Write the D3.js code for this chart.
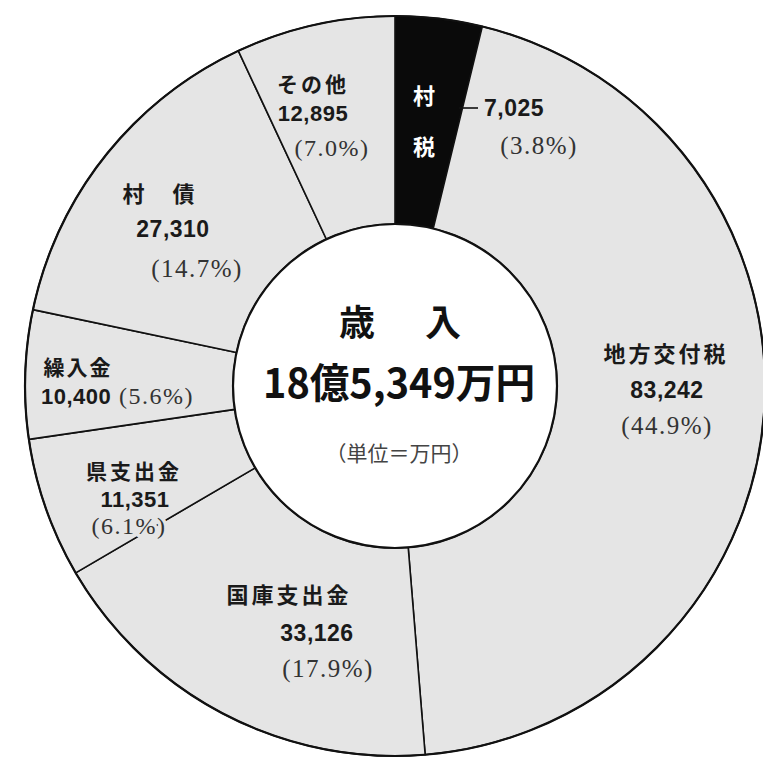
<!DOCTYPE html>
<html><head><meta charset="utf-8">
<script src="https://cdn.jsdelivr.net/npm/d3@7"></script>
<style>html,body{margin:0;padding:0;background:#fff}</style>
</head><body><svg id="c" width="763" height="762"></svg>
<script>
// ---- data ----
const categories = ["村税","地方交付税","国庫支出金","県支出金","繰入金","村債","その他"];
const displayNames = ["村税","地方交付税","国庫支出金","県支出金","繰入金","村　債","その他"];
const values = [7025,83242,33126,11351,10400,27310,12895];
const valueLabels = ["7,025","83,242","33,126","11,351","10,400","27,310","12,895"];
const percentLabels = ["(3.8%)","(44.9%)","(17.9%)","(6.1%)","(5.6%)","(14.7%)","(7.0%)"];
const titleChars = ["歳","入"];
const totalLabel = "18億5,349万円";
const unitLabel = "（単位＝万円）";

// ---- layout (label anchors, not data) ----
const W = 763, H = 762, cx = 395, cy = 386, rOuter = 370, rInner = 162;
const labelLayout = {
  "地方交付税": {name:[666,352], value:[667,390], pct:[667,425]},
  "国庫支出金": {name:[289,593], value:[317,633], pct:[328,668]},
  "県支出金":   {name:[134,470], value:[135,499], pct:[129,526]},
  "村債":       {name:[160,192], value:[173,229], pct:[197,268]},
  "その他":     {name:[313,83],  value:[313,113], pct:[332,148]}
};
const fillGray = "#e5e5e5";
const colors = categories.map(c => c === "村税" ? "#0a0a0a" : fillGray);

const svg = d3.select("#c");
svg.append("rect").attr("width", W).attr("height", H).attr("fill", "#fff");

const pie = d3.pie().sort(null).value(d => d)(values);
const arc = d3.arc().innerRadius(rInner).outerRadius(rOuter);
const g = svg.append("g").attr("transform", `translate(${cx},${cy})`);
g.selectAll("path.slice").data(pie).join("path")
  .attr("class","slice")
  .attr("d", arc)
  .attr("fill", (d,i) => colors[i])
  .attr("stroke", "#111").attr("stroke-width", 1.6).attr("stroke-linejoin","round");
g.append("circle").attr("r", rOuter).attr("fill","none").attr("stroke","#111").attr("stroke-width",2.2);
g.append("circle").attr("r", rInner).attr("fill","#fff").attr("stroke","#111").attr("stroke-width",2.2);

const sans = "'Noto Sans CJK JP', 'Noto Sans', sans-serif";
const num = "'Liberation Sans', Arial, sans-serif";
const serif = "'Liberation Serif', 'DejaVu Serif', serif";

function txt(x, y, s, o) {
  const t = svg.append("text").attr("x", x).attr("y", y).text(s)
    .attr("text-anchor", o.anchor || "middle")
    .attr("dominant-baseline", "central")
    .attr("font-family", o.family || sans)
    .attr("font-size", o.size)
    .attr("font-weight", o.weight || "normal")
    .attr("fill", o.fill || "#1a1a1a");
  if (o.ls) t.attr("letter-spacing", o.ls);
  if (o.len) t.attr("textLength", o.len).attr("lengthAdjust", "spacingAndGlyphs");
  if (o.halo) t.attr("stroke", o.halo).attr("stroke-width", 7).attr("paint-order", "stroke").attr("stroke-linejoin","round");
  return t;
}

// standard labels
categories.forEach((c, i) => {
  const L = labelLayout[c];
  if (!L) return;
  const small = c === "県支出金" || c === "その他";
  txt(L.name[0], L.name[1], displayNames[i], {size: small ? 21 : 22, weight:"bold", ls:3, halo:fillGray});
  txt(L.value[0], L.value[1], valueLabels[i], {family:num, size: small ? 22 : 23, weight:"bold", ls:0.5, halo:fillGray});
  txt(L.pct[0], L.pct[1], percentLabels[i], {size: small ? 24 : 25, family:serif, ls:1.5, fill:"#333", halo:fillGray});
});

// 繰入金 label (value and percent on one line)
{
  const i = categories.indexOf("繰入金");
  txt(78, 366, displayNames[i], {size:21, weight:"bold", ls:2});
  txt(41, 396, valueLabels[i], {family:num, size:22, weight:"bold", anchor:"start", ls:0.5});
  txt(119, 396, percentLabels[i], {size:24, family:serif, ls:1.5, fill:"#333", anchor:"start", halo:fillGray});
}

// 村税 label: vertical white chars inside black slice + leader line
{
  const i = categories.indexOf("村税");
  const chars = displayNames[i].split("");
  txt(424, 94, chars[0], {size:22, weight:"bold", fill:"#fff"});
  txt(424, 145, chars[1], {size:22, weight:"bold", fill:"#fff"});
  svg.append("line").attr("x1", 459).attr("y1", 108).attr("x2", 478).attr("y2", 108)
    .attr("stroke", "#111").attr("stroke-width", 1.6);
  txt(484, 108, valueLabels[i], {family:num, size:23, weight:"bold", anchor:"start", ls:0.5});
  txt(539, 145, percentLabels[i], {size:25, family:serif, ls:1.5, fill:"#333"});
}

// centre
txt(357, 320, titleChars[0], {size:36, weight:"bold", fill:"#111"});
txt(443, 320, titleChars[1], {size:36, weight:"bold", fill:"#111"});
txt(399, 380, totalLabel, {size:41, weight:"bold", fill:"#111", len:272});
txt(399, 452, unitLabel, {size:21, fill:"#444"});
</script></body></html>
